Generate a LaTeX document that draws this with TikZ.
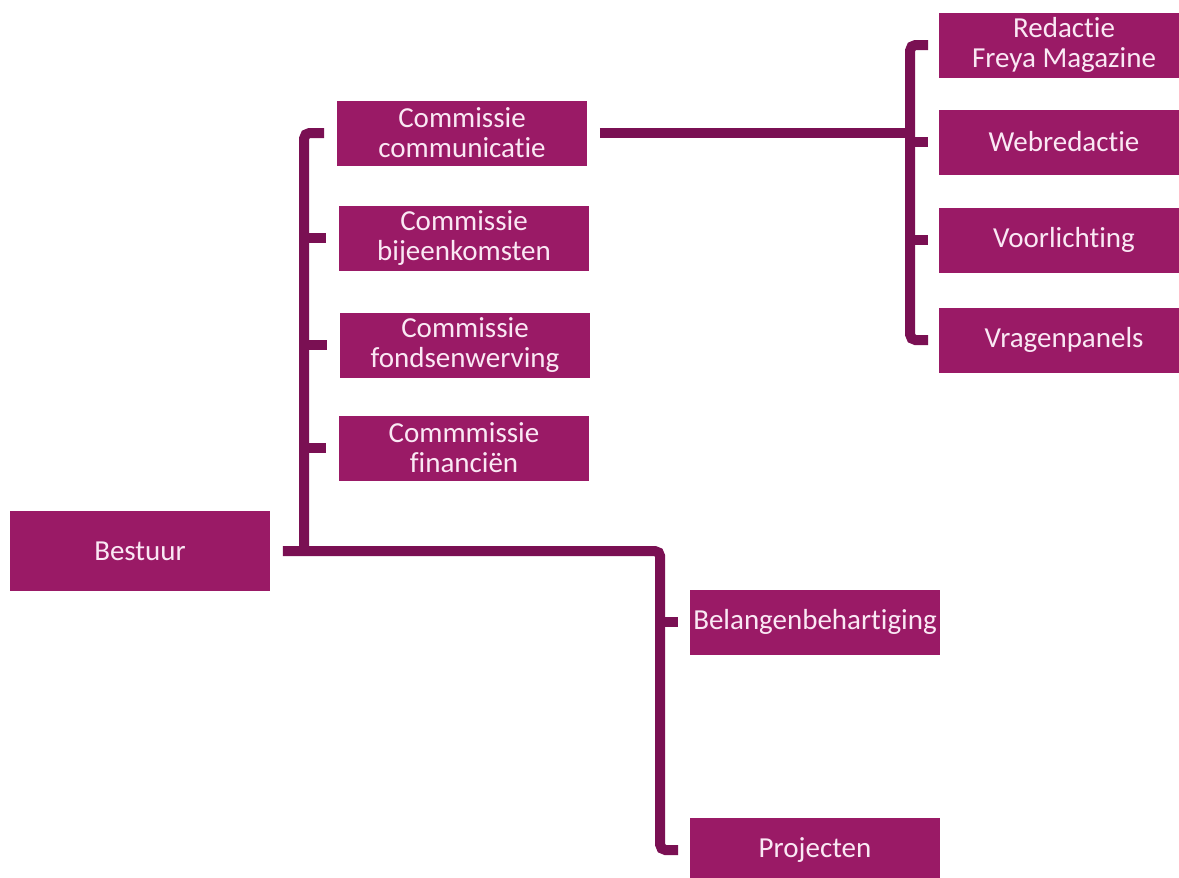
\documentclass[tikz,border=0pt]{standalone}
\usepackage{fontspec}
\setmainfont{Carlito}[Ligatures={NoCommon}]
\usetikzlibrary{calc,positioning}

\definecolor{freyapaars}{RGB}{154,26,102}
\definecolor{lijnpaars}{RGB}{122,16,83}
\definecolor{tekstroze}{RGB}{250,232,244}

\tikzset{
  blok/.style={fill=freyapaars, text=tekstroze, align=center,
    minimum width=5.02cm, minimum height=1.3cm, inner sep=0pt,
    font=\fontsize{16.5}{17}\selectfont},
  link/.style={lijnpaars, line width=5.7pt, rounded corners=3pt}
}

\begin{document}
\begin{tikzpicture}[x=0.02cm, y=-0.02cm]
  \useasboundingbox (0,0) rectangle (1179,877);

  % bestuur
  \node [blok, minimum width=5.22cm, minimum height=1.6cm] (bestuur) at (140,551) {Bestuur};

  % commissies
  \node [blok] (cc) at (462,133) {Commissie\\communicatie};
  \node [blok] (cb) at (464,238) {Commissie\\bijeenkomsten};
  \node [blok] (cfo) at (465,345) {Commissie\\fondsenwerving};
  \node [blok] (cfi) at (464,448) {Commmissie\\financiën};

  % onder commissie communicatie
  \node [blok] (red) at (1064,45) {Redactie\\Freya Magazine};
  \node [blok] (web) at (1064,142) {Webredactie};
  \node [blok] (voor) at (1064,240) {Voorlichting};
  \node [blok] (vragen) at (1064,340) {Vragenpanels};

  % overig
  \node [blok] (belangen) at (815,622) {Belangenbehartiging};
  \node [blok] (projecten) at (815,850) {Projecten};

  \coordinate (stam) at ($(cc.west)+(-32,0)$);
  \coordinate (tak) at ($(red.west)+(-28,0)$);
  \coordinate (poot) at ($(belangen.west)+(-29,0)$);

  % hoofdlijn
  \draw [link]
    ($(bestuur.east)+(12,0)$)
    -| (poot)
    |- ($(projecten.west)+(-11,0)$)
  ;
  \draw [link] (poot) -- ($(belangen.west)+(-11,0)$);

  % commissies
  \draw [link] ($(cc.west)+(-12,0)$) -| (stam |- bestuur.east);
  \foreach \c in {cb,cfo,cfi}
    \draw [link] (stam |- \c.west) -- ($(\c.west)+(-12,0)$);

  % communicatie
  \draw [link] ($(cc.east)+(12,0)$) -- (cc.east -| tak);
  \draw [link]
    ($(red.west)+(-10,0)$)
    -| (tak |- vragen.west)
    -- ($(vragen.west)+(-10,0)$)
  ;
  \foreach \c in {web,voor}
    \draw [link] (tak |- \c.west) -- ($(\c.west)+(-10,0)$);
\end{tikzpicture}
\end{document}
